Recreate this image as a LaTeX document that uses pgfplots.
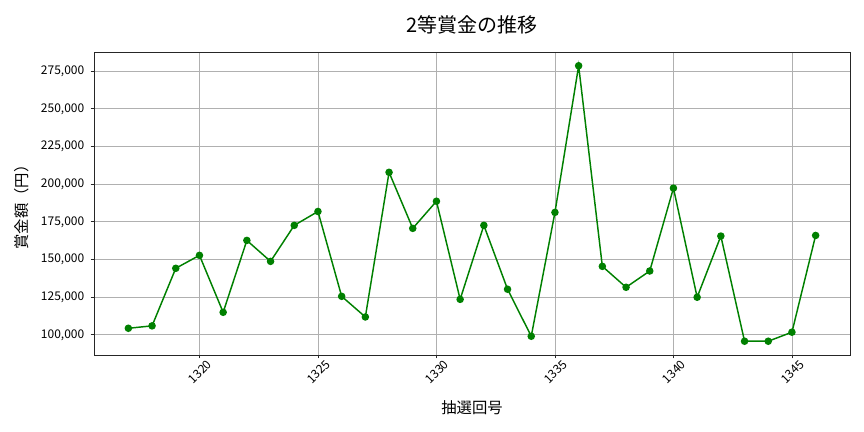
\documentclass[border=0pt]{standalone}
\usepackage{pgfplots}
\pgfplotsset{compat=1.18}
\usepackage{fontspec}
\setmainfont{Noto Sans CJK JP}
\definecolor{lgreen}{RGB}{0,128,0}
\definecolor{gridc}{RGB}{176,176,176}
\begin{document}
\begin{tikzpicture}
\begin{axis}[
  scale only axis,
  width=567pt, height=227.25pt,
  xmin=1315.55, xmax=1347.45,
  ymin=86660, ymax=287740,
  xtick={1320,1325,1330,1335,1340,1345},
  ytick={100000,125000,150000,175000,200000,225000,250000,275000},
  /pgf/number format/assume math mode=true,
  scaled y ticks=false,
  yticklabel style={/pgf/number format/fixed,/pgf/number format/1000 sep={,}, inner sep=0pt, xshift=-4.5pt},
  xticklabel style={/pgf/number format/1000 sep={}, rotate=45, anchor=north east, inner sep=0pt, xshift=3.4pt, yshift=-4pt},
  ticklabel style={font=\fontsize{9pt}{11pt}\selectfont},
  tick align=outside,
  xtick pos=bottom, ytick pos=left,
  major tick length=2.6pt,
  tick style={line width=0.6pt, color=black!85},
  axis line style={line width=0.6pt, color=black!85},
  grid=major,
  major grid style={line width=0.6pt, color=gridc},
  clip=false,
]
\addplot[color=lgreen, line width=1.1pt, mark=*, mark size=2.25pt, mark options={fill=lgreen, draw=lgreen}] coordinates {
(1317,104400) (1318,106000) (1319,144200) (1320,152800) (1321,115000)
(1322,162700) (1323,148800) (1324,172700) (1325,181900) (1326,125600)
(1327,111900) (1328,207900) (1329,170700) (1330,188700) (1331,123600)
(1332,172700) (1333,130300) (1334,99100) (1335,181300) (1336,278600)
(1337,145500) (1338,131600) (1339,142400) (1340,197400) (1341,125000)
(1342,165600) (1343,95800) (1344,95800) (1345,101800) (1346,166000)
};
\node[font=\fontsize{15pt}{17pt}\selectfont] at ([yshift=20.25pt]rel axis cs:0.5,1) {2等賞金の推移};
\node[font=\fontsize{11.5pt}{13pt}\selectfont] at ([yshift=-39.75pt]rel axis cs:0.5,0) {抽選回号};
\node[rotate=90, font=\fontsize{11.5pt}{13pt}\selectfont] at ([xshift=-54pt]rel axis cs:0,0.5) {賞金額（円）};
\end{axis}
\pgfresetboundingbox
\path[use as bounding box] ([shift={(-70.5pt,-57.75pt)}]current axis.south west) rectangle ([shift={(577.5pt,266.25pt)}]current axis.south west);
\end{tikzpicture}
\end{document}
